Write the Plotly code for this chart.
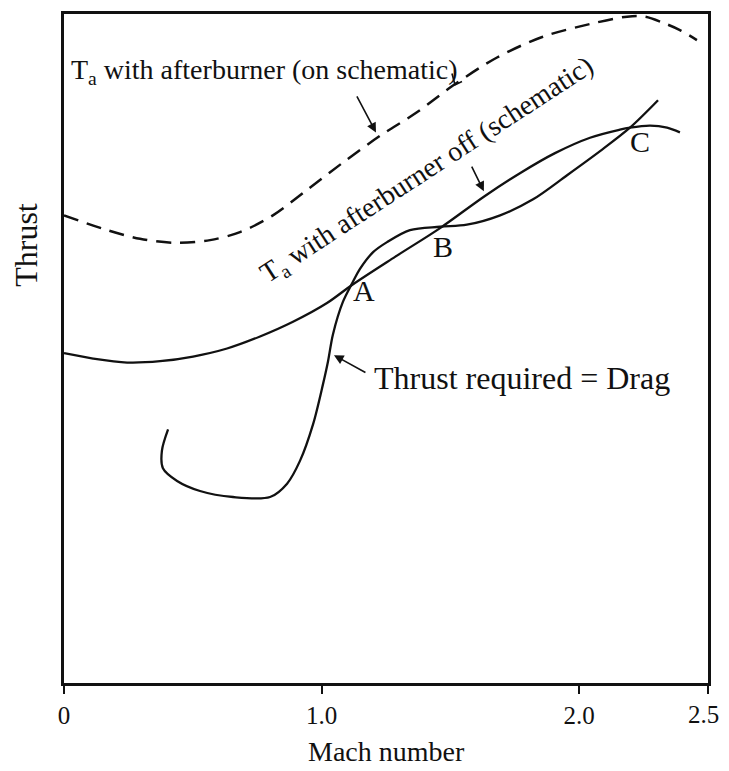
import plotly.graph_objects as go

# ---- data (Mach number, thrust in arbitrary units 0-100) ----
on_mach = [0.000, 0.151, 0.295, 0.431, 0.567, 0.683, 0.811, 0.943, 1.083, 1.227,
           1.370, 1.510, 1.681, 1.859, 2.042, 2.186, 2.255, 2.325, 2.391, 2.457]
on_thrust = [69.9, 67.9, 66.4, 65.8, 66.2, 67.4, 69.9, 73.7, 77.8, 81.8,
             85.3, 89.3, 93.5, 96.6, 98.5, 99.6, 99.6, 98.7, 97.6, 96.1]

off_mach = [0.000, 0.113, 0.245, 0.373, 0.501, 0.633, 0.761, 0.889, 1.021, 1.118,
            1.285, 1.460, 1.634, 1.770, 1.906, 2.042, 2.158, 2.197, 2.275, 2.341, 2.391]
off_thrust = [49.3, 48.5, 47.9, 48.1, 48.8, 50.0, 51.8, 54.0, 56.8, 59.5,
              63.7, 68.0, 72.8, 76.2, 79.2, 81.5, 82.7, 83.0, 83.3, 83.0, 82.3]

drag_mach = [0.404, 0.380, 0.384, 0.439, 0.528, 0.656, 0.800, 0.866, 0.916, 0.967,
             1.005, 1.025, 1.044, 1.083, 1.118, 1.149, 1.200, 1.254, 1.343, 1.460,
             1.564, 1.693, 1.821, 1.953, 2.081, 2.197, 2.306]
drag_thrust = [37.9, 34.7, 32.1, 30.2, 28.7, 27.8, 27.8, 29.8, 33.2, 38.7,
               44.6, 48.1, 52.1, 57.0, 59.7, 61.9, 64.4, 65.9, 67.7, 68.2,
               68.5, 69.9, 72.3, 75.9, 79.5, 83.0, 87.1]

tick_vals = [0, 1.0, 2.0, 2.5]
tick_text = ["0", "1.0", "2.0", ""]
last_tick_label = "2.5"

FONT = "Liberation Serif, Times New Roman, serif"
INK = "#111111"

fig = go.Figure()
fig.add_trace(go.Scatter(x=on_mach, y=on_thrust, mode="lines",
                         line=dict(color=INK, width=2.5, dash="15px,9px", shape="spline", smoothing=0.9),
                         hoverinfo="skip", showlegend=False))
fig.add_trace(go.Scatter(x=off_mach, y=off_thrust, mode="lines",
                         line=dict(color=INK, width=2.3, shape="spline", smoothing=0.9),
                         hoverinfo="skip", showlegend=False))
fig.add_trace(go.Scatter(x=drag_mach, y=drag_thrust, mode="lines",
                         line=dict(color=INK, width=2.3, shape="spline", smoothing=0.9),
                         hoverinfo="skip", showlegend=False))

ann = []
ann.append(dict(x=0.019, y=91.4, xref="x", yref="y", xanchor="left", yanchor="middle",
                text="T<sub>a</sub> with afterburner (on schematic)", showarrow=False,
                font=dict(family=FONT, size=28, color=INK)))
ann.append(dict(x=1.413, y=76.6, xref="x", yref="y", xanchor="center", yanchor="middle",
                text="T<sub>a</sub> with afterburner off (schematic)", showarrow=False, textangle=-33,
                font=dict(family=FONT, size=28, color=INK)))
ann.append(dict(x=1.196, y=45.6, xref="x", yref="y", xanchor="left", yanchor="middle",
                text="Thrust required = Drag", showarrow=False,
                font=dict(family=FONT, size=32, color=INK)))
for lbl, lx, ly in [("A", 1.165, 58.6), ("B", 1.471, 65.3), ("C", 2.236, 80.9)]:
    ann.append(dict(x=lx, y=ly, xref="x", yref="y", text=lbl, showarrow=False,
                    xanchor="center", yanchor="middle",
                    font=dict(family=FONT, size=30, color=INK)))
# arrows: (tip, tail)
for tip, tail in [((1.211, 82.3), (1.134, 87.9)),
                  ((1.630, 73.5), (1.580, 77.4)),
                  ((1.048, 49.0), (1.176, 46.3))]:
    ann.append(dict(x=tip[0], y=tip[1], ax=tail[0], ay=tail[1], xref="x", yref="y",
                    axref="x", ayref="y", text="", showarrow=True, arrowhead=2,
                    arrowsize=1.2, arrowwidth=1.6, arrowcolor=INK))
ann.append(dict(x=-0.059, y=0.655, xref="paper", yref="paper", text="Thrust", textangle=-90,
                xanchor="center", yanchor="middle",
                showarrow=False, font=dict(family=FONT, size=32, color=INK)))
ann.append(dict(x=0.5, y=-0.103, xref="paper", yref="paper", text="Mach number",
                xanchor="center", yanchor="middle",
                showarrow=False, font=dict(family=FONT, size=28, color=INK)))
# last tick label, nudged inside the page edge like the reference
ann.append(dict(x=0.993, y=-0.024, xref="paper", yref="paper", text=last_tick_label,
                xanchor="center", yanchor="top", showarrow=False,
                font=dict(family=FONT, size=25, color=INK)))

# small leader hook after the "(on schematic)" label
fig.add_shape(type="path", xref="x", yref="y",
              path="M 1.506 91.1 L 1.518 89.4 L 1.545 89.9",
              line=dict(color=INK, width=1.6))

fig.update_layout(
    width=721, height=763,
    margin=dict(l=56, r=21, t=3, b=88),
    paper_bgcolor="white", plot_bgcolor="white",
    annotations=ann,
    xaxis=dict(range=[0, 2.5], tickvals=tick_vals, ticktext=tick_text, ticks="outside",
               ticklen=8, tickwidth=2, tickcolor=INK, showgrid=False, zeroline=False,
               showline=True, linecolor=INK, linewidth=2.5, mirror=True,
               tickfont=dict(family=FONT, size=25, color=INK)),
    yaxis=dict(range=[0, 100], showticklabels=False, ticks="", showgrid=False, zeroline=False,
               showline=True, linecolor=INK, linewidth=2.5, mirror=True),
)
fig.write_html("out.html")
